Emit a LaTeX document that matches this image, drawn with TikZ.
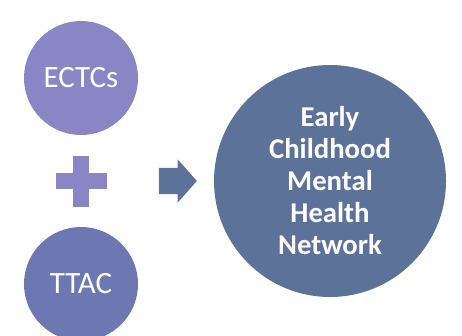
\documentclass[tikz,border=0pt]{standalone}
\usepackage{fontspec}
\setmainfont{Carlito}
\usepackage{tikz}
\usetikzlibrary{positioning}
\usetikzlibrary{shapes.arrows}
\usepackage{xcolor}
\definecolor{lilac}{HTML}{8A85C5}
\definecolor{indigo}{HTML}{6D77B1}
\definecolor{slate}{HTML}{5D7298}

\begin{document}
\begin{tikzpicture}[x=1pt, y=1pt, small/.style = {circle, fill=#1, text=white, minimum size=114pt, inner sep=0pt, font=\fontsize{31}{36}\selectfont}, big/.style = {circle, fill=slate, text=white, minimum size=232pt, inner sep=0pt, align=center, font=\fontsize{28.7}{32}\selectfont\bfseries}, node distance=103pt]
\useasboundingbox (0,0) rectangle (462,-335);
\clip (0,0) rectangle (462,-335);
\node[small=lilac] (ectcs) at (81,-78) {ECTCs};
\node (plus) [below of=ectcs, inner sep=0pt, minimum size=0pt] {};
\node[small=indigo] (ttac) [below of=plus] {TTAC};
\node (arrow) [right of=plus, node distance=91pt, single arrow, fill=slate, inner xsep=0pt, inner ysep=13pt, minimum height=38pt, single arrow head extend=8.5pt, single arrow tip angle=97] {};
\node[big] (net) at (330,-181) {Early\\Childhood\\Mental\\Health\\Network};
% plus sign
\fill[lilac] (plus) ++(-25.5,-8) rectangle ++(51,16);
\fill[lilac] (plus) ++(-8,-25.5) rectangle ++(16,51);
\end{tikzpicture}
\end{document}
